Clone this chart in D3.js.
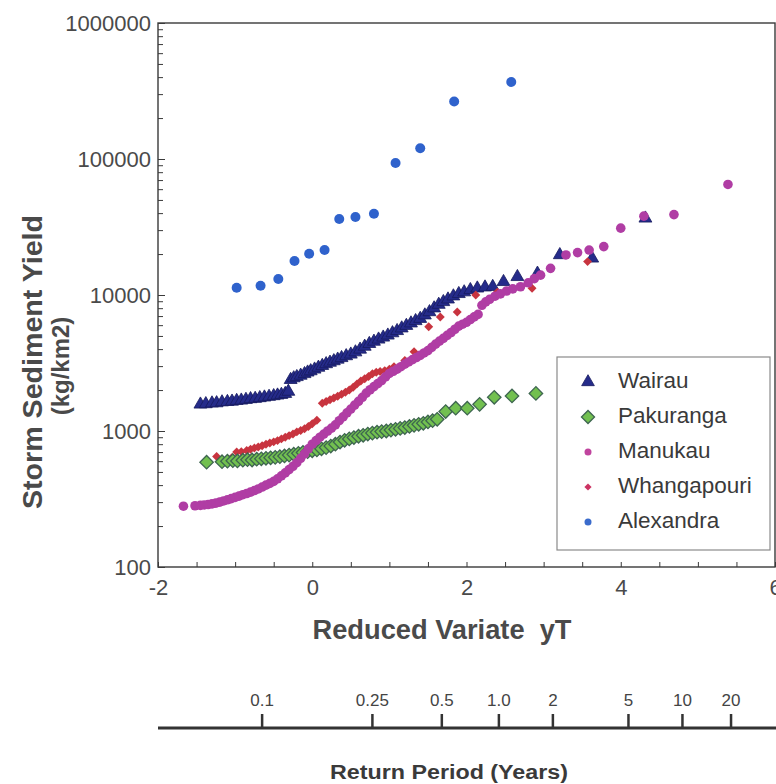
<!DOCTYPE html>
<html>
<head>
<meta charset="utf-8">
<script src="https://cdn.jsdelivr.net/npm/d3@7"></script>
<style>
  html, body { margin: 0; padding: 0; background: #fff; }
  svg { display: block; font-family: "Liberation Sans", Arial, sans-serif; }
</style>
</head>
<body>
<svg id="chart" width="776" height="784"></svg>
<script>
// ---------------- DATA ----------------
// [reduced variate yT, storm sediment yield kg/km2]
const wairau = [
  [-1.45,1570],[-1.38,1580],[-1.3,1600],[-1.24,1605],[-1.17,1630],[-1.1,1640],[-1.04,1650],[-0.98,1670],
  [-0.92,1680],[-0.86,1700],[-0.8,1720],[-0.74,1730],[-0.68,1750],[-0.62,1770],[-0.56,1790],[-0.5,1810],
  [-0.45,1830],[-0.4,1850],[-0.35,1880],[-0.31,1950],[-0.28,2380],[-0.24,2450],[-0.2,2500],[-0.15,2560],
  [-0.1,2630],[-0.06,2700],[-0.02,2760],[0.03,2840],[0.08,2930],[0.13,3020],[0.18,3110],[0.23,3190],
  [0.28,3270],[0.33,3360],[0.38,3450],[0.44,3560],[0.5,3660],[0.56,3800],[0.62,3980],[0.68,4180],
  [0.74,4380],[0.8,4550],[0.86,4720],[0.92,4880],[0.98,5050],[1.04,5250],[1.1,5450],[1.16,5700],
  [1.22,5950],[1.28,6200],[1.34,6450],[1.4,6700],[1.46,7100],[1.52,7500],[1.58,8000],[1.64,8500],
  [1.7,8900],[1.76,9300],[1.83,9800],[1.9,10200],[1.97,10500],[2.05,10900],[2.14,11200],[2.24,11400],
  [2.34,11500],[2.48,12500],[2.66,13600],[2.92,14400],[3.21,19700],[3.63,18600],[4.32,36600]
];
const pakuranga = [
  [-1.37,590],[-1.17,595],[-1.1,600],[-1.03,605],[-0.97,602],[-0.9,610],[-0.84,615],[-0.78,612],
  [-0.72,620],[-0.66,625],[-0.6,630],[-0.54,635],[-0.48,640],[-0.42,648],[-0.36,655],[-0.3,665],
  [-0.24,675],[-0.18,685],[-0.12,695],[-0.06,705],[0,715],[0.06,725],[0.12,740],[0.18,755],
  [0.24,775],[0.3,800],[0.36,830],[0.42,855],[0.48,875],[0.54,895],[0.6,915],[0.66,930],
  [0.72,950],[0.78,965],[0.84,980],[0.9,990],[0.96,1000],[1.02,1015],[1.08,1030],[1.14,1045],
  [1.2,1060],[1.26,1080],[1.32,1100],[1.38,1120],[1.44,1140],[1.5,1165],[1.56,1190],[1.62,1220],
  [1.73,1390],[1.86,1470],[2.01,1470],[2.17,1570],[2.36,1770],[2.59,1810],[2.9,1890]
];
const manukau = [
  [-1.67,280],[-1.52,282],[-1.45,284],[-1.4,286],[-1.35,288],[-1.3,291],[-1.25,295],[-1.2,300],
  [-1.15,306],[-1.1,312],[-1.05,318],[-1.0,325],[-0.95,332],[-0.9,340],[-0.85,347],[-0.8,355],
  [-0.75,365],[-0.7,375],[-0.65,387],[-0.6,400],[-0.55,412],[-0.5,426],[-0.45,445],[-0.4,468],
  [-0.35,492],[-0.3,520],[-0.25,550],[-0.2,585],[-0.15,630],[-0.1,680],[-0.05,740],[0,800],
  [0.05,850],[0.1,900],[0.15,950],[0.2,1000],[0.25,1050],[0.3,1110],[0.35,1190],[0.4,1270],
  [0.45,1360],[0.5,1450],[0.55,1550],[0.6,1650],[0.65,1770],[0.7,1900],[0.75,2010],[0.8,2120],
  [0.85,2230],[0.9,2350],[0.95,2500],[1.0,2650],[1.05,2750],[1.1,2850],[1.15,2970],[1.2,3100],
  [1.25,3220],[1.3,3350],[1.35,3470],[1.4,3600],[1.45,3750],[1.5,3900],[1.55,4120],[1.6,4350],
  [1.65,4580],[1.7,4800],[1.75,5050],[1.8,5300],[1.85,5600],[1.9,5900],[1.95,6100],[2.0,6300],
  [2.05,6600],[2.1,6900],[2.15,7200],[2.2,8400],[2.25,8900],[2.3,9300],[2.37,9800],[2.44,10200],
  [2.52,10700],[2.6,11100],[2.7,11500],[2.8,12300],[2.88,13200],[2.96,14000],[3.09,15700],[3.29,19700],
  [3.44,20500],[3.59,21400],[3.78,22700],[4.0,31000],[4.3,38000],[4.69,39000],[5.39,65000]
];
const whangapouri = [
  [-1.24,650],[-1.04,640],[-0.98,700],[-0.92,705],[-0.85,720],[-0.8,735],[-0.75,750],[-0.7,762],
  [-0.65,780],[-0.6,800],[-0.55,815],[-0.5,832],[-0.45,850],[-0.4,875],[-0.35,900],[-0.3,925],
  [-0.25,950],[-0.2,985],[-0.15,1010],[-0.1,1040],[-0.05,1080],[0.0,1130],[0.06,1200],[0.13,1600],
  [0.18,1650],[0.23,1700],[0.28,1750],[0.33,1800],[0.38,1860],[0.43,1930],[0.48,2000],[0.53,2100],
  [0.58,2220],[0.63,2330],[0.68,2420],[0.73,2520],[0.78,2640],[0.83,2700],[0.88,2740],[0.94,2780],
  [1.0,2850],[1.06,2970],[1.2,3300],[1.32,3830],[1.51,5850],[1.66,6900],[1.88,7500],[2.12,10000],
  [2.4,10500],[2.85,11200],[3.57,17600]
];
const alexandra = [
  [-0.98,11300],[-0.67,11700],[-0.44,13100],[-0.23,17800],[-0.04,20100],[0.16,21400],[0.35,36200],
  [0.56,37500],[0.8,39600],[1.08,93500],[1.4,120000],[1.84,265000],[2.58,368000]
];

const seriesNames = ["Wairau", "Pakuranga", "Manukau", "Whangapouri", "Alexandra"];
const yTickValues = [100, 1000, 10000, 100000, 1000000];
const xTickValues = [-2, 0, 2, 4, 6];
const returnPeriodLabels = ["0.1", "0.25", "0.5", "1.0", "2", "5", "10", "20"];
const returnPeriodYT = [-0.65, 0.78, 1.68, 2.42, 3.12, 4.1, 4.8, 5.43];

// ---------------- CHART ----------------
const svg = d3.select("#chart");
const L = 158, R = 775, T = 23, B = 567;
const x = d3.scaleLinear().domain([-2, 6]).range([L, R]);
const y = d3.scaleLog().domain([100, 1000000]).range([B, T]);

const axisColor = "#3a3a3a";
const labelColor = "#4a4a4a";

// frame
svg.append("rect").attr("x", L).attr("y", T).attr("width", R - L).attr("height", B - T)
  .attr("fill", "none").attr("stroke", axisColor).attr("stroke-width", 1.4);

// y minor ticks
const yMinor = [];
for (let d = 100; d < 1000000; d *= 10) for (let m = 2; m <= 9; m++) yMinor.push(d * m);
svg.append("g").attr("transform", `translate(${L},0)`)
  .call(d3.axisLeft(y).tickValues(yMinor).tickSize(-5).tickFormat(""))
  .call(g => g.select(".domain").remove())
  .call(g => g.selectAll("line").attr("stroke", axisColor));

// y major ticks + labels
svg.append("g").attr("transform", `translate(${L},0)`)
  .call(d3.axisLeft(y).tickValues(yTickValues).tickSize(-7).tickPadding(7).tickFormat(d => String(d)))
  .call(g => g.select(".domain").remove())
  .call(g => g.selectAll("line").attr("stroke", axisColor))
  .call(g => g.selectAll("text").attr("fill", labelColor).style("font-size", "22px")
    .style("font-family", "'Liberation Sans', Arial, sans-serif"));

// x minor ticks
svg.append("g").attr("transform", `translate(0,${B})`)
  .call(d3.axisBottom(x).tickValues(d3.range(-2, 6.01, 0.5)).tickSize(-5).tickFormat(""))
  .call(g => g.select(".domain").remove())
  .call(g => g.selectAll("line").attr("stroke", axisColor));

// x labels (plain hyphen for negatives, as in the original)
svg.append("g").attr("transform", `translate(0,${B})`)
  .call(d3.axisBottom(x).tickValues(xTickValues).tickSize(0).tickPadding(12).tickFormat(d => String(d)))
  .call(g => g.select(".domain").remove())
  .call(g => g.selectAll("text").attr("fill", labelColor).style("font-size", "22px")
    .style("font-family", "'Liberation Sans', Arial, sans-serif"));

// axis titles
svg.append("text").attr("x", 442).attr("y", 639).attr("text-anchor", "middle")
  .attr("font-weight", "bold").attr("font-size", 27).attr("fill", labelColor)
  .attr("textLength", 259).attr("lengthAdjust", "spacingAndGlyphs")
  .attr("xml:space", "preserve")
  .text("Reduced Variate  yT");

svg.append("text").attr("transform", "translate(42,362) rotate(-90)").attr("text-anchor", "middle")
  .attr("font-weight", "bold").attr("font-size", 27).attr("fill", labelColor)
  .attr("textLength", 294).attr("lengthAdjust", "spacingAndGlyphs")
  .text("Storm Sediment Yield");
svg.append("text").attr("transform", "translate(69,366) rotate(-90)").attr("text-anchor", "middle")
  .attr("font-weight", "bold").attr("font-size", 24).attr("fill", labelColor)
  .text("(kg/km2)");

// ---------------- SERIES ----------------
const plot = svg.append("g");
const sq = d3.symbol().type(d3.symbolSquare);
const tri = d3.symbol().type(d3.symbolTriangle);

function drawSymbols(data, path, fill, stroke, sw, rot) {
  plot.append("g").selectAll("path").data(data).join("path")
    .attr("transform", d => `translate(${x(d[0])},${y(d[1])})` + (rot ? ` rotate(${rot})` : ""))
    .attr("d", path).attr("fill", fill).attr("stroke", stroke).attr("stroke-width", sw);
}
function drawDots(data, r, fill) {
  plot.append("g").selectAll("circle").data(data).join("circle")
    .attr("cx", d => x(d[0])).attr("cy", d => y(d[1])).attr("r", r).attr("fill", fill);
}

drawSymbols(wairau, tri.size(72)(), "#252b8a", "#171b5e", 0.8, 0);
drawSymbols(whangapouri, sq.size(40)(), "#c8343f", "none", 0, 45);
drawSymbols(pakuranga, sq.size(90)(), "#72c050", "#3e6650", 1.3, 45);
drawDots(manukau, 4.8, "#b03da4");
drawDots(alexandra, 5, "#2f62cc");

// ---------------- LEGEND ----------------
const lg = svg.append("g");
lg.append("rect").attr("x", 557).attr("y", 357).attr("width", 213).attr("height", 193)
  .attr("fill", "#fff").attr("stroke", "#8a8a8a").attr("stroke-width", 1.2);
const legendMarkers = [
  g => g.append("path").attr("d", tri.size(70)()).attr("fill", "#252b8a").attr("stroke", "#171b5e").attr("stroke-width", 0.8),
  g => g.append("path").attr("d", sq.size(85)()).attr("transform", "rotate(45)").attr("fill", "#72c050").attr("stroke", "#3e6650").attr("stroke-width", 1.3),
  g => g.append("circle").attr("r", 3.5).attr("fill", "#c0449e"),
  g => g.append("path").attr("d", sq.size(26)()).attr("transform", "rotate(45)").attr("fill", "#cc3362"),
  g => g.append("circle").attr("r", 3.5).attr("fill", "#3a6bcc")
];
seriesNames.forEach((name, i) => {
  const by = 388 + i * 35;
  const mg = lg.append("g").attr("transform", `translate(588,${by - 6})`);
  legendMarkers[i](mg);
  lg.append("text").attr("x", 618).attr("y", by).attr("font-size", 22.5).attr("fill", "#3a3a3a").text(name);
});

// ---------------- RETURN PERIOD AXIS ----------------
const RY = 728;
svg.append("line").attr("x1", L).attr("x2", 776).attr("y1", RY).attr("y2", RY)
  .attr("stroke", "#333").attr("stroke-width", 3);
const rp = svg.append("g");
returnPeriodLabels.forEach((lab, i) => {
  const px = x(returnPeriodYT[i]);
  rp.append("line").attr("x1", px).attr("x2", px).attr("y1", RY).attr("y2", RY - 14)
    .attr("stroke", "#333").attr("stroke-width", 2.5);
  rp.append("text").attr("x", px).attr("y", 706).attr("text-anchor", "middle")
    .attr("font-size", 17).attr("fill", "#444").text(lab);
});
svg.append("text").attr("x", 449).attr("y", 779).attr("text-anchor", "middle")
  .attr("font-weight", "bold").attr("font-size", 20).attr("fill", "#3a3a3a")
  .attr("textLength", 238).attr("lengthAdjust", "spacingAndGlyphs")
  .text("Return Period (Years)");
</script>
</body>
</html>
